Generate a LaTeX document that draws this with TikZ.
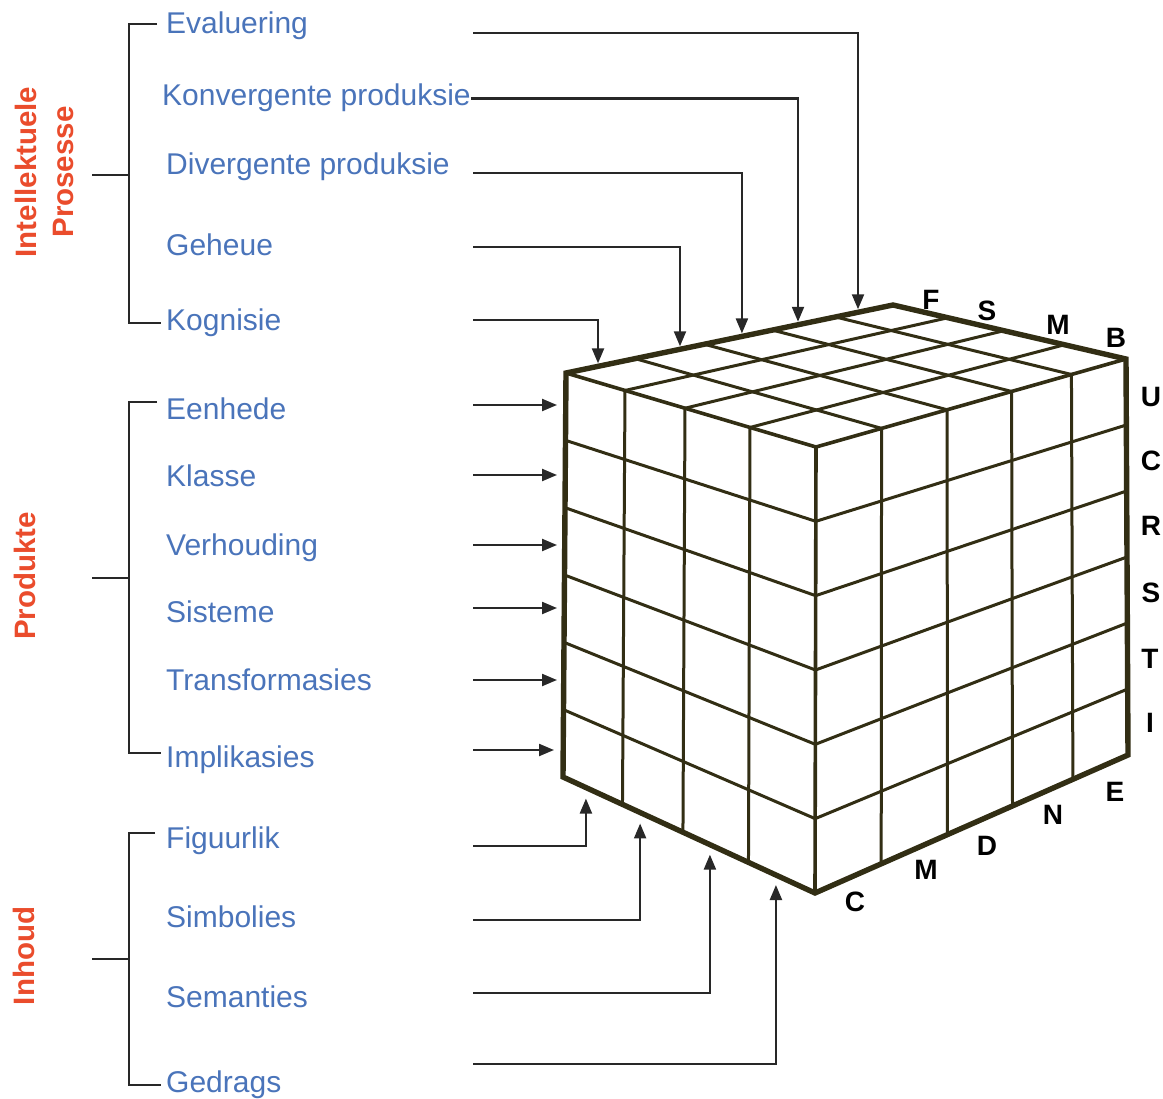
\documentclass[tikz,border=0pt]{standalone}
\usepackage{fontspec}
\setmainfont{Liberation Sans}
\usepackage{tikz}
\usetikzlibrary{arrows.meta, calc, positioning}

\definecolor{itemblue}{RGB}{74,116,186}
\definecolor{groupred}{RGB}{234,76,44}
\definecolor{cubeline}{RGB}{50,46,20}
\definecolor{linkgray}{RGB}{40,40,40}

\begin{document}
\begin{tikzpicture}[
        x=1pt, y=-1pt,
        itemtext/.style={anchor=base west, inner sep=0pt, text height=21pt, text depth=6pt,
                         text=itemblue, font=\fontsize{30}{35}\selectfont},
        grouptext/.style={rotate=90, align=center, inner sep=0pt, text=groupred,
                          font=\fontsize{29.5}{37}\selectfont\bfseries},
        dimletter/.style={inner sep=0pt, text=black, font=\fontsize{28}{28}\selectfont\bfseries},
        bracket/.style={draw=linkgray, line width=2pt},
        arrow/.style={draw=linkgray, line width=2.2pt, -{Triangle[length=15pt, width=12pt]}},
        cubegrid/.style={draw=cubeline, line width=3pt},
        cubeedge/.style={draw=cubeline, line width=3.6pt, line join=round},
        cubeoutline/.style={draw=cubeline, line width=5.4pt, line join=miter}
    ]
        \useasboundingbox (0,0) rectangle (1163,1099);

        \coordinate (tl) at (566,373);
        \coordinate (tb) at (893,305);
        \coordinate (tr) at (1126,359);
        \coordinate (tf) at (816,447);
        \coordinate (bl) at (563,777);
        \coordinate (bf) at (815,893);
        \coordinate (br) at (1128,755);

        \foreach \f in {0.2115,0.423,0.631,0.824}
            \draw[cubegrid] ($(tl)!\f!(tb)$) -- ($(tf)!\f!(tr)$);
        \foreach \f in {0.236,0.476,0.736}
            \draw[cubegrid] ($(tl)!\f!(tf)$) -- ($(tb)!\f!(tr)$);
        \foreach \f in {0.236,0.476,0.736}
            \draw[cubegrid] ($(tl)!\f!(tf)$) -- ($(bl)!\f!(bf)$);
        \foreach \f in {0.2115,0.423,0.631,0.824}
            \draw[cubegrid] ($(tf)!\f!(tr)$) -- ($(bf)!\f!(br)$);
        \foreach \k in {1,...,5} {
            \draw[cubegrid] ($(tl)!\k/6!(bl)$) -- ($(tf)!\k/6!(bf)$);
            \draw[cubegrid] ($(tf)!\k/6!(bf)$) -- ($(tr)!\k/6!(br)$);
        }
        \draw[cubeedge] (tl) -- (tf) -- (tr) (tf) -- (bf);
        \draw[cubeoutline] (tl) -- (tb) -- (tr) -- (br) -- (bf) -- (bl) -- cycle;

        \node[dimletter] (topf) at (931,300) {F};
        \node[dimletter] (tops) at (987,311) {S};
        \node[dimletter] (topm) at (1058,325) {M};
        \node[dimletter] (topb) at (1116,338) {B};
        \node[dimletter] (rowu) at (1151,397) {U};
        \node[dimletter] (rowc) at (1151,461) {C};
        \node[dimletter] (rowr) at (1151,526) {R};
        \node[dimletter] (rows) at (1151,593) {S};
        \node[dimletter] (rowt) at (1150,659) {T};
        \node[dimletter] (rowi) at (1150,723) {I};
        \node[dimletter] (bote) at (1115,792) {E};
        \node[dimletter] (botn) at (1053,815) {N};
        \node[dimletter] (botd) at (987,846) {D};
        \node[dimletter] (botm) at (926,870) {M};
        \node[dimletter] (botc) at (855,902) {C};

        \node[grouptext] (prosesse) at (44,172) {Intellektuele\\Prosesse};
        \node[grouptext] (produkte) at (25,576) {Produkte};
        \node[grouptext] (inhoud) at (24,956) {Inhoud};

        \node[itemtext] (evaluering) at (166,34) {Evaluering};
        \node[itemtext] (konvergent) at (162,106) {Konvergente produksie};
        \node[itemtext] (divergent) at (166,175) {Divergente produksie};
        \node[itemtext] (geheue) at (166,256) {Geheue};
        \node[itemtext] (kognisie) at (166,331) {Kognisie};

        \node[itemtext] (eenhede) at (166,420) {Eenhede};
        \node[itemtext] (klasse) at (166,486) {Klasse};
        \node[itemtext] (verhouding) at (166,555) {Verhouding};
        \node[itemtext] (sisteme) at (166,622) {Sisteme};
        \node[itemtext] (transformasies) at (166,690) {Transformasies};
        \node[itemtext] (implikasies) at (166,767) {Implikasies};

        \node[itemtext] (figuurlik) at (166,848) {Figuurlik};
        \node[itemtext] (simbolies) at (166,927) {Simbolies};
        \node[itemtext] (semanties) at (166,1007) {Semanties};
        \node[itemtext] (gedrags) at (166,1092) {Gedrags};

        \coordinate (spine) at (129,0);
        \draw[bracket] ([xshift=-9pt, yshift=2.5pt]evaluering.west) -| (kognisie.west -| spine) -- ([xshift=-5pt]kognisie.west);
        \draw[bracket] ($(evaluering.west -| spine)!0.5!(kognisie.west -| spine)$) -- ++(-37,0);
        \draw[bracket] ([xshift=-9pt, yshift=10pt]eenhede.west) -| ([yshift=6.5pt]implikasies.west -| spine) -- ([xshift=-5pt, yshift=6.5pt]implikasies.west);
        \draw[bracket] ($([yshift=10pt]eenhede.west -| spine)!0.5!([yshift=6.5pt]implikasies.west -| spine)$) -- ++(-37,0);
        \draw[bracket] ([xshift=-11pt, yshift=7.5pt]figuurlik.west) -| (gedrags.west -| spine) -- ([xshift=-5pt]gedrags.west);
        \draw[bracket] ($([yshift=7.5pt]figuurlik.west -| spine)!0.5!(gedrags.west -| spine)$) -- ++(-37,0);

        \coordinate (evalfrom) at (473,33);
        \coordinate (divfrom) at (473,173);
        \coordinate (geheuefrom) at (473,247);
        \coordinate (kogfrom) at (473,320);
        \coordinate (evalto) at ($(tl)!0.893!(tb)$);
        \coordinate (konvto) at ($(tl)!0.7095!(tb)$);
        \coordinate (divto) at ($(tl)!0.538!(tb)$);
        \coordinate (geheueto) at ($(tl)!0.3486!(tb)$);
        \coordinate (kogto) at ($(tl)!0.0979!(tb)$);

        \coordinate (eenhedefrom) at (473,405);
        \coordinate (klassefrom) at (473,475);
        \coordinate (verhoudingfrom) at (473,545);
        \coordinate (sistemefrom) at (473,608);
        \coordinate (transfrom) at (473,680);
        \coordinate (implfrom) at (473,750);

        \coordinate (figfrom) at (473,846);
        \coordinate (simbfrom) at (473,920);
        \coordinate (semfrom) at (473,993);
        \coordinate (gedragsfrom) at (473,1064);
        \coordinate (figto) at ($(bl)!0.091!(bf)$);
        \coordinate (simbto) at ($(bl)!0.306!(bf)$);
        \coordinate (semto) at ($(bl)!0.583!(bf)$);
        \coordinate (gedragsto) at ($(bl)!0.845!(bf)$);

        \draw[arrow, shorten >=3pt] (evalfrom) -| (evalto);
        \draw[arrow, shorten >=3pt] (konvergent.east) -| (konvto);
        \draw[arrow, shorten >=3pt] (divfrom) -| (divto);
        \draw[arrow, shorten >=3pt] (geheuefrom) -| (geheueto);
        \draw[arrow, shorten >=3pt] (kogfrom) -| (kogto);

        \draw[arrow, shorten >=9pt] (eenhedefrom) -- (eenhedefrom -| tl);
        \draw[arrow, shorten >=9pt] (klassefrom) -- (klassefrom -| tl);
        \draw[arrow, shorten >=9pt] (verhoudingfrom) -- (verhoudingfrom -| tl);
        \draw[arrow, shorten >=9pt] (sistemefrom) -- (sistemefrom -| tl);
        \draw[arrow, shorten >=9pt] (transfrom) -- (transfrom -| tl);
        \draw[arrow, shorten >=9pt] (implfrom) -- (implfrom -| bl);

        \draw[arrow, shorten >=11pt] (figfrom) -| (figto);
        \draw[arrow, shorten >=11pt] (simbfrom) -| (simbto);
        \draw[arrow, shorten >=10pt] (semfrom) -| (semto);
        \draw[arrow, shorten >=10pt] (gedragsfrom) -| (gedragsto);
    \end{tikzpicture}
\end{document}
